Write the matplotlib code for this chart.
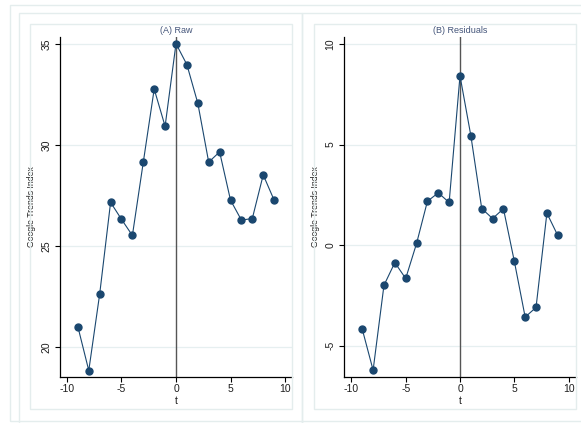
import matplotlib
matplotlib.use("Agg")
import matplotlib.pyplot as plt
from matplotlib.patches import Rectangle

t = [-9, -8, -7, -6, -5, -4, -3, -2, -1, 0, 1, 2, 3, 4, 5, 6, 7, 8, 9]
raw = [21.0, 18.83, 22.62, 27.16, 26.32, 25.52, 29.15, 32.77, 30.93, 35.02,
       33.98, 32.07, 29.15, 29.66, 27.27, 26.28, 26.36, 28.52, 27.27]
resid = [-4.18, -6.22, -2.0, -0.87, -1.66, 0.08, 2.18, 2.6, 2.12, 8.42,
         5.44, 1.82, 1.32, 1.81, -0.8, -3.58, -3.1, 1.59, 0.48]

raw_ticks = [20, 25, 30, 35]
resid_ticks = [-5, 0, 5, 10]
x_ticks = [-10, -5, 0, 5, 10]

plt.rcParams['font.family'] = ['Liberation Sans', 'DejaVu Sans']

navy = '#1a476f'
frame = '#e4eded'
W, H = 581, 423

fig = plt.figure(figsize=(W / 100, H / 100), dpi=100)


def px_rect(x0, y0, x1, y1):
    # light Stata-style region borders, in pixel coordinates
    fig.patches.append(Rectangle((x0 / W, 1 - y1 / H), (x1 - x0) / W, (y1 - y0) / H,
                                 transform=fig.transFigure, fill=False,
                                 edgecolor=frame, linewidth=1.0, zorder=0))


px_rect(10, 5, 600, 421)
px_rect(19, 13, 302, 440)
px_rect(30, 24, 292, 409)
px_rect(302, 13, 600, 440)
px_rect(314, 24, 576, 409)


def panel(rect, y, yticks, ylim, xlim, title):
    x0, y0, x1, y1 = rect
    w, h = x1 - x0, y1 - y0
    ax = fig.add_axes([x0 / W, 1 - y1 / H, w / W, h / H])
    ax.set_facecolor('none')
    for yt in yticks:
        ax.axhline(yt, color='#e6eff0', lw=0.9, zorder=0)
    ax.axvline(0, color='#555555', lw=1.0, zorder=1)
    ax.plot(t, y, color=navy, lw=0.8, marker='o', markersize=5.0,
            markerfacecolor=navy, markeredgecolor=navy, zorder=3)
    ax.set_xlim(*xlim)
    ax.set_ylim(*ylim)
    ax.set_xticks(x_ticks)
    ax.set_xticklabels([str(v) for v in x_ticks])
    ax.set_yticks(yticks)
    ax.set_yticklabels([str(v) for v in yticks], rotation=90, va='center')
    ax.tick_params(axis='both', length=3.3, width=0.8, color='black',
                   labelsize=7.5, labelcolor='#1e1e1e')
    ax.tick_params(axis='y', pad=3)
    ax.tick_params(axis='x', pad=1.5)
    for s in ['top', 'right']:
        ax.spines[s].set_visible(False)
    for s in ['left', 'bottom']:
        ax.spines[s].set_linewidth(0.9)
        ax.spines[s].set_color('black')
    ax.set_xlabel('t', fontsize=7.5, color='#1e1e1e', va='center')
    ax.xaxis.set_label_coords(0.5, -24 / h)
    ax.set_ylabel('Google Trends Index', fontsize=6.2, color='#1e1e1e', va='center')
    ax.yaxis.set_label_coords(-29 / w, 0.5)
    ax.set_title(title, fontsize=6.5, color='#44557a', pad=3)
    return ax


panel((60, 37, 292, 377), raw, raw_ticks, (18.51, 35.35), (-10.64, 10.64), '(A) Raw')
panel((344, 37, 576, 377), resid, resid_ticks, (-6.56, 10.35), (-10.68, 10.68), '(B) Residuals')

fig.savefig('out.png', dpi=100, facecolor='white')
